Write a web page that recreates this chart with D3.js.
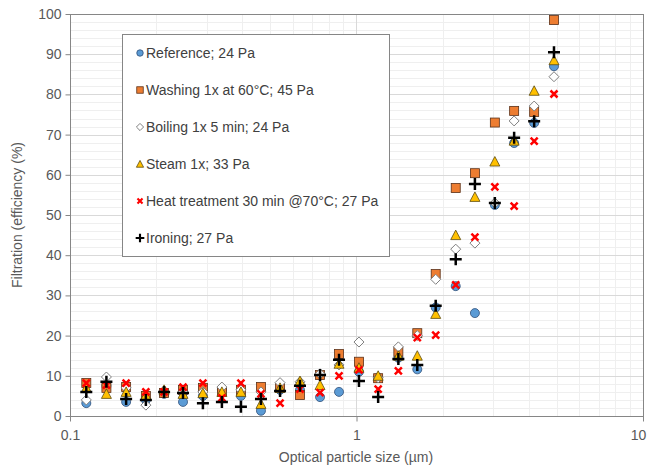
<!doctype html>
<meta charset='utf-8'>
<body style="margin:0;background:#fff">
<script src='https://cdn.jsdelivr.net/npm/d3@7/dist/d3.min.js'></script>
<script>

// optical particle size channels (µm)
var sizes = [0.114, 0.134, 0.157, 0.184, 0.213, 0.248, 0.291, 0.339, 0.395, 0.464,
             0.541, 0.635, 0.746, 0.869, 1.02, 1.19, 1.40, 1.63, 1.89, 2.22,
             2.59, 3.04, 3.55, 4.17, 4.89];

var reference = [3.2, 7.5, 3.5, 4, 5.5, 3.5, 5, 6.5, 5, 1.3,
                 6.5, 6.5, 4.7, 6, 11, 9.5, 14.5, 11.6, 27, 32.3,
                 25.6, 52.5, 67.9, 72.9, 87];
var washing = [8.2, 7, 7.2, 5, 5.7, 6.5, 7, 6, 6.5, 7.2,
               7, 5.2, 10.2, 15.4, 13.5, 9.4, 16, 20.6, 35.3, 56.7,
               60.4, 73, 75.9, 75.6, 98.5];
var boiling = [4, 9.7, 7, 2.7, 6, 6, 6, 7.2, 6.5, 6,
               8.3, 8.5, 10.5, 12.7, 18.4, 9.5, 17.2, 20, 34, 41.5,
               43, 53, 73.4, 77.1, 84.4];
var steam = [7, 5.5, 6, 5.2, 6.5, 5.5, 5.7, 6, 6, 3,
             7, 8.7, 7.7, 13, 12, 10, 15, 15, 25.4, 45,
             54.5, 63.3, 68.5, 80.9, 88.5];
var heat = [8.2, 7.7, 8.2, 6, 6, 7.2, 8.2, 4.5, 8.2, 5.5,
            3.2, 6.7, 5.8, 10, 11.5, 6.7, 11.2, 19.5, 20.1, 32.6,
            44.5, 57, 52.2, 68.4, 80.1];
var ironing = [6, 8.5, 4.2, 4, 6, 5.7, 3.2, 3.5, 2.3, 4.2,
               6.2, 7.5, 10.2, 14, 8.7, 4.7, 14.2, 12.7, 27.4, 39,
               57.7, 53, 69.2, 73.3, 90.5];

var xTicks = [0.1, 1, 10];
var yTicks = [0, 10, 20, 30, 40, 50, 60, 70, 80, 90, 100];

var series = [
  {name: 'Reference; 24 Pa', values: reference, shape: 'circle'},
  {name: 'Washing 1x at 60°C; 45 Pa', values: washing, shape: 'square'},
  {name: 'Boiling 1x 5 min; 24 Pa', values: boiling, shape: 'diamond'},
  {name: 'Steam 1x; 33 Pa', values: steam, shape: 'triangle'},
  {name: 'Heat treatment 30 min @70°C; 27 Pa', values: heat, shape: 'cross'},
  {name: 'Ironing; 27 Pa', values: ironing, shape: 'plus'}
];

var width = 651, height = 466;
var plot = {left: 70, right: 643, top: 14, bottom: 416};
var font = "'Liberation Sans', Arial, sans-serif";

var x = d3.scaleLog().domain([0.1, 10]).range([plot.left, plot.right]);
var y = d3.scaleLinear().domain([0, 100]).range([plot.bottom, plot.top]);

var svg = d3.select('body').append('svg')
    .attr('width', width)
    .attr('height', height)
    .style('font-family', font);

// gridlines
var minorX = [];
[0.1, 1].forEach(function(d) { for (var k = 2; k <= 9; k++) minorX.push(d * k); });
var minorY = d3.range(2, 100, 2).filter(function(v) { return v % 10 != 0; });

var grid = svg.append('g');
grid.selectAll('.mx').data(minorX).enter().append('line')
    .attr('x1', function(d) { return Math.round(x(d)) + 0.5; })
    .attr('x2', function(d) { return Math.round(x(d)) + 0.5; })
    .attr('y1', plot.top).attr('y2', plot.bottom)
    .attr('stroke', '#efefef');
grid.selectAll('.my').data(minorY).enter().append('line')
    .attr('y1', function(d) { return Math.round(y(d)) + 0.5; })
    .attr('y2', function(d) { return Math.round(y(d)) + 0.5; })
    .attr('x1', plot.left).attr('x2', plot.right)
    .attr('stroke', '#efefef');
grid.selectAll('.Mx').data([1]).enter().append('line')
    .attr('x1', function(d) { return Math.round(x(d)) + 0.5; })
    .attr('x2', function(d) { return Math.round(x(d)) + 0.5; })
    .attr('y1', plot.top).attr('y2', plot.bottom)
    .attr('stroke', '#d9d9d9');
grid.selectAll('.My').data(yTicks.slice(1, -1)).enter().append('line')
    .attr('y1', function(d) { return Math.round(y(d)) + 0.5; })
    .attr('y2', function(d) { return Math.round(y(d)) + 0.5; })
    .attr('x1', plot.left).attr('x2', plot.right)
    .attr('stroke', '#d9d9d9');

// plot border
svg.append('rect')
    .attr('x', plot.left + 0.5).attr('y', plot.top + 0.5)
    .attr('width', plot.right - plot.left).attr('height', plot.bottom - plot.top)
    .attr('fill', 'none').attr('stroke', '#868686');

// axes
var yAxis = svg.append('g')
    .attr('transform', 'translate(' + (plot.left + 0.5) + ',0)')
    .call(d3.axisLeft(y).tickValues(yTicks).tickSize(5).tickPadding(4));
var xAxis = svg.append('g')
    .attr('transform', 'translate(0,' + (plot.bottom + 0.5) + ')')
    .call(d3.axisBottom(x).tickValues(xTicks).tickFormat(d3.format('')).tickSize(5).tickPadding(9));
[xAxis, yAxis].forEach(function(a) {
  a.select('.domain').remove();
  a.selectAll('.tick line').attr('stroke', '#868686');
  a.selectAll('.tick text').attr('fill', '#595959')
      .style('font-family', font).style('font-size', '14px');
});
xAxis.selectAll('.tick text').filter(function(d) { return d == 10; }).attr('dx', -5);

svg.append('text')
    .attr('x', 356).attr('y', 462)
    .attr('text-anchor', 'middle')
    .attr('fill', '#595959').style('font-size', '14px')
    .text('Optical particle size (µm)');
svg.append('text')
    .attr('transform', 'translate(22,' + ((plot.top + plot.bottom) / 2) + ') rotate(-90)')
    .attr('text-anchor', 'middle')
    .attr('fill', '#595959').style('font-size', '14px')
    .text('Filtration (efficiency (%)');

// markers
function drawMarker(g, shape, k) {
  k = k || 1;
  if (shape == 'circle') {
    g.append('circle').attr('r', 4.5 * k).attr('fill', '#5b9bd5').attr('stroke', '#2f4f7a').attr('stroke-width', 0.8);
  } else if (shape == 'square') {
    g.append('rect').attr('x', -4.5 * k).attr('y', -4.5 * k).attr('width', 9 * k).attr('height', 9 * k)
        .attr('fill', '#ed7d31').attr('stroke', '#5a3018').attr('stroke-width', 0.8);
  } else if (shape == 'diamond') {
    g.append('path').attr('d', 'M0,-5L5,0L0,5L-5,0Z')
        .attr('transform', 'scale(' + k + ')')
        .attr('fill', '#fff').attr('stroke', '#7f7f7f').attr('stroke-width', 1 / k);
  } else if (shape == 'triangle') {
    g.append('path').attr('d', 'M0,-5L5,4.5L-5,4.5Z')
        .attr('transform', 'scale(' + k + ')')
        .attr('fill', '#ffc000').attr('stroke', '#5a4a10').attr('stroke-width', 0.8 / k);
  } else if (shape == 'cross') {
    g.append('path').attr('d', 'M-3.5,-3.5L3.5,3.5M-3.5,3.5L3.5,-3.5')
        .attr('transform', 'scale(' + k + ')')
        .attr('stroke', '#ff0000').attr('stroke-width', 2.5 / k * (k < 1 ? 0.85 : 1)).attr('fill', 'none');
  } else {
    g.append('path').attr('d', 'M-6,0H6M0,-6V6')
        .attr('transform', 'scale(' + k + ')')
        .attr('stroke', '#000').attr('stroke-width', 2.5 / k * (k < 1 ? 0.85 : 1)).attr('fill', 'none');
  }
}

series.forEach(function(s) {
  var pts = svg.append('g').selectAll('g')
      .data(s.values.map(function(v, i) { return {size: sizes[i], value: v}; }))
      .enter().append('g')
      .attr('transform', function(d) { return 'translate(' + x(d.size) + ',' + y(d.value) + ')'; });
  pts.each(function() { drawMarker(d3.select(this), s.shape); });
});

// legend
var legend = svg.append('g');
legend.append('rect')
    .attr('x', 122.5).attr('y', 34.5).attr('width', 267).attr('height', 222)
    .attr('fill', '#fff').attr('stroke', '#868686');
var item = legend.selectAll('.item').data(series).enter().append('g')
    .attr('transform', function(d, i) { return 'translate(140,' + (53 + i * 37) + ')'; });
item.each(function(d) { drawMarker(d3.select(this), d.shape, 0.72); });
item.append('text')
    .attr('x', 6).attr('dy', '0.35em')
    .attr('fill', '#404040').style('font-size', '14px')
    .text(function(d) { return d.name; });

</script>
